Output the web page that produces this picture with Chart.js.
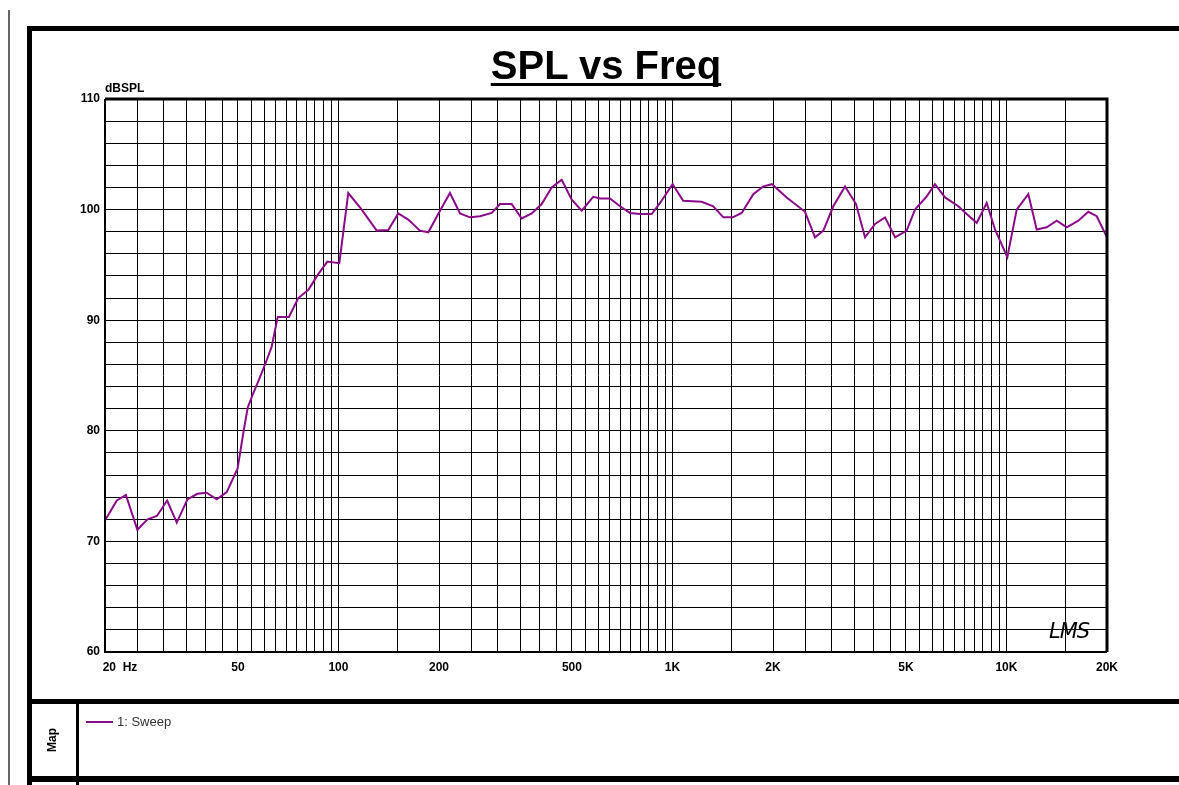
<!DOCTYPE html>
<html>
<head>
<meta charset="utf-8">
<script src="https://cdn.jsdelivr.net/npm/chart.js@4/dist/chart.umd.min.js"></script>
<style>
  html, body { margin: 0; padding: 0; background: #fff; }
  body { width: 1179px; height: 785px; position: relative; overflow: hidden; font-family: "Liberation Sans", Arial, sans-serif; }
  #c { position: absolute; left: 0; top: 0; }
  .bar { position: absolute; background: #000; }
  #title { position: absolute; left: 105px; width: 1002px; top: 45px; text-align: center; font: bold 40px "Liberation Sans", Arial, sans-serif; line-height: 40px; text-decoration: underline; text-decoration-thickness: 3px; text-underline-offset: 4px; text-decoration-skip-ink: none; color: #000; }
  #unit { position: absolute; left: 105px; top: 81px; font: bold 12px "Liberation Sans", Arial, sans-serif; color: #000; }
  #map { position: absolute; left: 52px; top: 740px; transform: translate(-50%, -50%) rotate(-90deg); font: bold 12px "Liberation Sans", Arial, sans-serif; color: #000; }
  #leg { position: absolute; left: 86px; top: 714px; font: 13px "Liberation Sans", Arial, sans-serif; color: #333; }
  #leg span.sw { display: inline-block; width: 27px; height: 2px; background: #8a0a8a; vertical-align: middle; margin-right: 4px; position: relative; top: -1px; }
  #lms { position: absolute; left: 1049px; top: 619px; font: italic 21px "DejaVu Sans", sans-serif; font-weight: 300; color: #000; letter-spacing: -1px; }
</style>
</head>
<body>
<canvas id="c" width="1179" height="785"></canvas>
<div class="bar" style="left:8px;top:10px;width:2px;height:775px;background:#666"></div>
<div class="bar" style="left:27px;top:26px;width:1152px;height:5px"></div>
<div class="bar" style="left:27px;top:26px;width:5px;height:759px"></div>
<div class="bar" style="left:27px;top:699px;width:1152px;height:5px"></div>
<div class="bar" style="left:27px;top:776px;width:1152px;height:6px"></div>
<div class="bar" style="left:76px;top:704px;width:3px;height:81px"></div>
<div id="title">SPL vs Freq</div>
<div id="unit">dBSPL</div>
<div id="map">Map</div>
<div id="leg"><span class="sw"></span>1: Sweep</div>
<div id="lms">LMS</div>
<script>
// ---- data ----
const freqHz = [20, 21.7, 23.1, 25.0, 26.8, 28.6, 30.7, 32.8, 35.3, 37.8, 40.3, 43.2, 46.3, 49.9, 51.9, 53.5, 55.6, 57.5, 61.0, 63.1,
  65.8, 71.1, 75.8, 81.3, 86.7, 92.6, 100.6, 107, 117.4, 130.2, 141, 151, 161.8, 175.4, 185.8, 201.4, 215.7, 231.2, 247.6, 265.4,
  287.7, 304.6, 330.2, 353.7, 379, 406, 435, 466, 499.5, 535, 579, 607, 650, 697, 746, 800, 867, 918, 1001, 1077,
  1223, 1325, 1420, 1515, 1612, 1746, 1871, 1986, 2198, 2494, 2672, 2830, 3031, 3286, 3545, 3772, 4042, 4330, 4640, 5027,
  5323, 5771, 6110, 6547, 7175, 7601, 8145, 8727, 9241, 10060, 10732, 11626, 12318, 13200, 14140, 15154, 16414, 17580, 18632, 20000];
const sweepDb = [71.9, 73.7, 74.2, 71.05, 72.0, 72.3, 73.7, 71.7, 73.8, 74.3, 74.4, 73.8, 74.45, 76.6, 79.8, 82.1, 83.4, 84.45, 86.4, 87.6,
  90.3, 90.3, 92.0, 92.75, 94.1, 95.3, 95.15, 101.5, 100.0, 98.1, 98.15, 99.65, 99.1, 98.1, 97.95, 99.9, 101.5, 99.65, 99.3, 99.4,
  99.7, 100.5, 100.5, 99.2, 99.65, 100.5, 102.0, 102.7, 100.9, 99.9, 101.15, 101.0, 101.0, 100.3, 99.7, 99.6, 99.6, 100.6, 102.3, 100.8,
  100.7, 100.3, 99.3, 99.3, 99.7, 101.4, 102.1, 102.3, 101.1, 99.8, 97.5, 98.1, 100.3, 102.1, 100.5, 97.5, 98.7, 99.3, 97.5, 98.1,
  100.0, 101.2, 102.3, 101.1, 100.3, 99.6, 98.8, 100.6, 98.2, 95.7, 100.0, 101.4, 98.2, 98.4, 99.0, 98.4, 99.0, 99.8, 99.4, 97.5];

const xLabelValues = [20, 50, 100, 200, 500, 1000, 2000, 5000, 10000, 20000];
const xLabelTexts  = ['20  Hz', '50', '100', '200', '500', '1K', '2K', '5K', '10K', '20K'];
const yLabelValues = [60, 70, 80, 90, 100, 110];
const yLabelTexts  = ['60', '70', '80', '90', '100', '110'];

// grid line positions (decade subdivisions, like the LMS grid)
const xGrid = [];
for (let f = 20; f <= 100; f += 5) xGrid.push(f);
for (let f = 150; f <= 1000; f += 50) xGrid.push(f);
for (let f = 1500; f <= 10000; f += 500) xGrid.push(f);
xGrid.push(15000, 20000);
const yGrid = [];
for (let v = 60; v <= 110; v += 2) yGrid.push(v);

const NB = '\u00A0';
function xLabel(v) {
  const i = xLabelValues.indexOf(v);
  if (i < 0) return '';
  let t = xLabelTexts[i].replace(/ /g, NB);
  if (i === 0) t = NB.repeat(9) + t;
  return t;
}
function yLabel(v) {
  const i = yLabelValues.indexOf(v);
  return i < 0 ? '' : yLabelTexts[i];
}

const framePlugin = {
  id: 'plotFrame',
  afterDraw(chart) {
    const a = chart.chartArea, ctx = chart.ctx;
    ctx.save();
    ctx.strokeStyle = '#000';
    ctx.lineWidth = 3;
    ctx.beginPath();
    ctx.moveTo(a.left, a.top); ctx.lineTo(a.right, a.top); ctx.lineTo(a.right, a.bottom);
    ctx.stroke();
    ctx.lineWidth = 2;
    ctx.beginPath();
    ctx.moveTo(a.right, a.bottom); ctx.lineTo(a.left, a.bottom); ctx.lineTo(a.left, a.top);
    ctx.stroke();
    ctx.restore();
  }
};

Chart.defaults.font.family = '"Liberation Sans", Arial, sans-serif';
new Chart(document.getElementById('c'), {
  type: 'line',
  data: {
    datasets: [{
      label: '1: Sweep',
      data: freqHz.map((f, i) => ({ x: f, y: sweepDb[i] })),
      borderColor: '#8a0a8a',
      borderWidth: 2,
      pointRadius: 0,
      tension: 0,
      fill: false
    }]
  },
  options: {
    responsive: false,
    animation: false,
    devicePixelRatio: 1,
    layout: { padding: { left: 0, top: 99, right: 72, bottom: 103 } },
    plugins: { legend: { display: false }, tooltip: { enabled: false }, title: { display: false } },
    scales: {
      x: {
        type: 'logarithmic',
        min: 20, max: 20000,
        afterBuildTicks(scale) { scale.ticks = xGrid.map(v => ({ value: v })); },
        afterFit(scale) { scale.height = 30; },
        grid: { color: '#000', lineWidth: 1, drawTicks: false },
        border: { display: false },
        ticks: {
          autoSkip: false, maxRotation: 0, minRotation: 0, padding: 8,
          color: '#000', font: { size: 12, weight: 'bold' },
          callback: (v) => xLabel(v)
        }
      },
      y: {
        type: 'linear',
        min: 60, max: 110,
        afterBuildTicks(scale) { scale.ticks = yGrid.map(v => ({ value: v })); },
        afterFit(scale) { scale.width = 105; },
        grid: { color: '#000', lineWidth: 1, drawTicks: false },
        border: { display: false },
        ticks: {
          autoSkip: false, padding: 5,
          color: '#000', font: { size: 12, weight: 'bold' },
          callback: (v) => yLabel(v)
        }
      }
    }
  },
  plugins: [framePlugin]
});
</script>
</body>
</html>
